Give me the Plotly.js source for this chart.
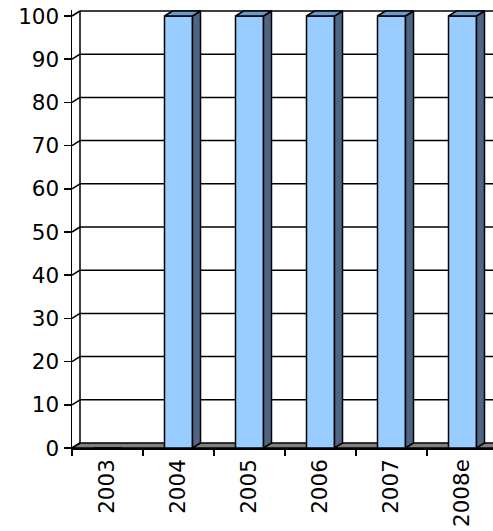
<!DOCTYPE html>
<html>
<head>
<meta charset="utf-8">
<script src="https://cdn.plot.ly/plotly-3.0.1.min.js"></script>
<style>html,body{margin:0;padding:0;background:#fff;}#chart{width:493px;height:531px;}</style>
</head>
<body>
<div id="chart"></div>
<script>
// Data
var categories = ['2003', '2004', '2005', '2006', '2007', '2008e'];
var values = [0, 100, 100, 100, 100, 100];
var yTickValues = [0, 10, 20, 30, 40, 50, 60, 70, 80, 90, 100];

// Geometry (pixel-based layout)
var W = 493, H = 531;
var mL = 72, mR = 0, mT = 10, mB = 83;
var pxPerCat = 71;
var pxPerUnit = 4.32;
var depthPxX = 8, depthPxY = 5;
var DX = depthPxX / pxPerCat;
var DY = depthPxY / pxPerUnit;
var xMin = -0.5;
var xMax = xMin + (W - mL - mR) / pxPerCat;
var yMax = (H - mT - mB) / pxPerUnit;
var barW = 28 / pxPerCat;
var farX = xMax + 2;

var xIdx = categories.map(function (c, i) { return i; });

var shapes = [];
// floor
shapes.push({type: 'path', xref: 'x', yref: 'y', layer: 'below',
  path: 'M' + xMin + ',0 L' + (xMin + DX) + ',' + DY + ' L' + farX + ',' + DY + ' L' + farX + ',0 Z',
  fillcolor: '#808080', line: {color: '#000', width: 1.5}});
// back wall gridlines and side-wall diagonals
yTickValues.forEach(function (v) {
  if (v > 0) {
    shapes.push({type: 'line', xref: 'x', yref: 'y', layer: 'below',
      x0: xMin + DX, x1: farX, y0: v + DY, y1: v + DY,
      line: {color: '#000', width: 1.5}});
  }
  shapes.push({type: 'line', xref: 'x', yref: 'y', layer: 'below',
    x0: xMin, x1: xMin + DX, y0: v, y1: v + DY,
    line: {color: '#000', width: 1.5}});
});
// back wall left edge
shapes.push({type: 'line', xref: 'x', yref: 'y', layer: 'below',
  x0: xMin + DX, x1: xMin + DX, y0: DY, y1: 100 + DY,
  line: {color: '#000', width: 1.5}});

var traces = [];
traces.push({
  type: 'bar', x: xIdx, y: values, width: barW,
  marker: {color: '#99CCFF', line: {color: '#000', width: 1.5}},
  hoverinfo: 'skip', showlegend: false
});
// side and top faces
xIdx.forEach(function (xi, i) {
  var v = values[i];
  if (v <= 0) return;
  var r = xi + barW / 2, l = xi - barW / 2;
  traces.push({type: 'scatter', mode: 'lines', fill: 'toself',
    x: [r, r + DX, r + DX, r, r], y: [0, DY, v + DY, v, 0],
    fillcolor: '#4F6585', line: {color: '#000', width: 1.5},
    hoverinfo: 'skip', showlegend: false});
  traces.push({type: 'scatter', mode: 'lines', fill: 'toself',
    x: [l, l + DX, r + DX, r, l], y: [v, v + DY, v + DY, v, v],
    fillcolor: '#7098C8', line: {color: '#000', width: 1.5},
    hoverinfo: 'skip', showlegend: false});
});

var boundaries = [];
for (var b = 0; b <= categories.length; b++) boundaries.push(b - 0.5);

var font = {family: 'DejaVu Sans, Verdana, sans-serif', size: 21.5, color: '#000'};

var layout = {
  width: W, height: H,
  margin: {l: mL, r: mR, t: mT, b: mB, pad: 0},
  paper_bgcolor: '#fff', plot_bgcolor: '#fff',
  showlegend: false,
  font: font,
  xaxis: {
    range: [xMin, xMax], showgrid: false, zeroline: false,
    showline: true, linecolor: '#000', linewidth: 1.5,
    tickmode: 'array', tickvals: xIdx, ticktext: categories,
    ticks: '', tickangle: -90, tickfont: font, ticklabelstandoff: 1,
    minor: {tickmode: 'array', tickvals: boundaries, ticks: 'outside', ticklen: 6, tickwidth: 1.5, tickcolor: '#000', showgrid: false},
    fixedrange: true
  },
  yaxis: {
    range: [0, yMax], showgrid: false, zeroline: false,
    showline: true, linecolor: '#000', linewidth: 1.5,
    tickmode: 'array', tickvals: yTickValues,
    ticks: 'outside', ticklen: 7, tickwidth: 1.5, tickcolor: '#000',
    tickfont: font, fixedrange: true
  },
  shapes: shapes
};

Plotly.newPlot('chart', traces, layout, {displayModeBar: false, staticPlot: true});
</script>
</body>
</html>
